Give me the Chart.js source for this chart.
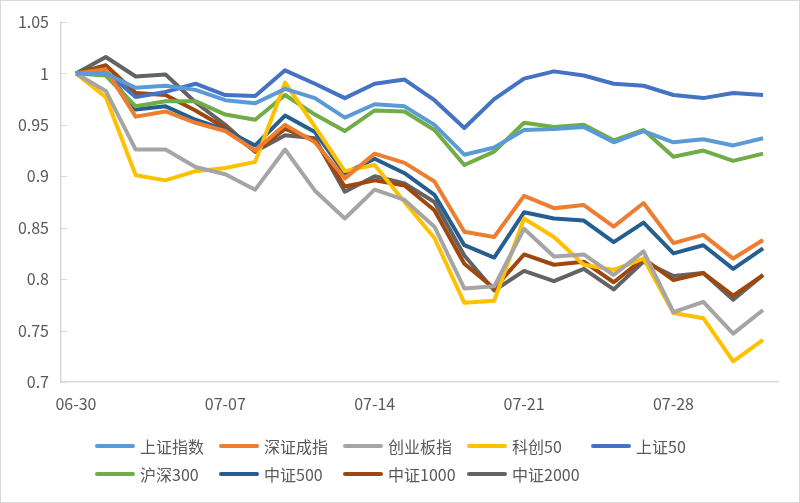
<!DOCTYPE html>
<html>
<head>
<meta charset="utf-8">
<script src="https://cdn.jsdelivr.net/npm/chart.js@4"></script>
<style>
  html, body { margin: 0; padding: 0; background: #fff; }
  #frame {
    position: relative; width: 800px; height: 503px;
    box-sizing: border-box; border: 1px solid #d9d9d9; background: #fff;
    font-family: "Noto Sans CJK SC", "Noto Sans", sans-serif;
  }
  #wrap { position: absolute; left: -1px; top: -1px; width: 800px; height: 503px; }
  #legend {
    position: absolute; left: 94px; top: 431px;
    display: grid; grid-template-columns: repeat(5, 124px); grid-auto-rows: 28px;
    font-size: 16px; color: #595959;
  }
  #legend .item { display: flex; align-items: center; white-space: nowrap; }
  #legend .swatch { width: 40px; height: 4px; border-radius: 2px; margin-right: 5px; }
</style>
</head>
<body>
<div id="frame">
  <div id="wrap"><canvas id="chart"></canvas></div>
  <div id="legend"></div>
</div>
<script>
// trading days, 2025-06-30 .. 2025-07-31
const dates = ['06-30', '07-01', '07-02', '07-03', '07-04',
    '07-07', '07-08', '07-09', '07-10', '07-11',
    '07-14', '07-15', '07-16', '07-17', '07-18',
    '07-21', '07-22', '07-23', '07-24', '07-25',
    '07-28', '07-29', '07-30', '07-31'];

// index values, normalised to 06-30 = 1
const szzs = [1.000, 1.000, 0.986, 0.988, 0.984, 0.974, 0.971, 0.985, 0.976, 0.957, 0.970, 0.968,
    0.950, 0.921, 0.928, 0.945, 0.946, 0.948, 0.933, 0.944, 0.933, 0.936, 0.930, 0.937];
const szcz = [1.000, 1.004, 0.958, 0.963, 0.952, 0.944, 0.925, 0.950, 0.933, 0.898, 0.922, 0.913,
    0.895, 0.846, 0.841, 0.881, 0.869, 0.872, 0.851, 0.874, 0.835, 0.843, 0.820, 0.838];
const cybz = [1.000, 0.983, 0.926, 0.926, 0.909, 0.902, 0.887, 0.926, 0.886, 0.859, 0.887, 0.877,
    0.851, 0.791, 0.793, 0.849, 0.822, 0.824, 0.804, 0.827, 0.768, 0.778, 0.747, 0.770];
const kc50 = [1.000, 0.977, 0.901, 0.896, 0.905, 0.908, 0.914, 0.991, 0.948, 0.905, 0.911, 0.875,
    0.840, 0.777, 0.779, 0.859, 0.841, 0.814, 0.809, 0.820, 0.767, 0.762, 0.720, 0.741];
const sz50 = [1.000, 1.002, 0.977, 0.982, 0.990, 0.979, 0.978, 1.003, 0.990, 0.976, 0.990, 0.994,
    0.974, 0.947, 0.975, 0.995, 1.002, 0.998, 0.990, 0.988, 0.979, 0.976, 0.981, 0.979];
const hs300 = [1.000, 0.998, 0.968, 0.973, 0.973, 0.960, 0.955, 0.979, 0.960, 0.944, 0.964, 0.963,
    0.945, 0.911, 0.924, 0.952, 0.948, 0.950, 0.935, 0.945, 0.919, 0.925, 0.915, 0.922];
const zz500 = [1.000, 1.002, 0.965, 0.968, 0.955, 0.945, 0.930, 0.959, 0.943, 0.903, 0.917, 0.903,
    0.882, 0.833, 0.821, 0.865, 0.859, 0.857, 0.836, 0.855, 0.825, 0.833, 0.810, 0.830];
const zz1000 = [1.000, 1.008, 0.981, 0.979, 0.964, 0.947, 0.924, 0.946, 0.935, 0.890, 0.896, 0.891,
    0.867, 0.815, 0.791, 0.824, 0.814, 0.817, 0.797, 0.820, 0.799, 0.806, 0.784, 0.804];
const zz2000 = [1.000, 1.016, 0.997, 0.999, 0.972, 0.950, 0.924, 0.940, 0.937, 0.885, 0.900, 0.893,
    0.875, 0.823, 0.789, 0.808, 0.798, 0.810, 0.790, 0.817, 0.803, 0.806, 0.780, 0.804];

const seriesNames = ['上证指数', '深证成指', '创业板指', '科创50', '上证50',
    '沪深300', '中证500', '中证1000', '中证2000'];
const seriesData = [szzs, szcz, cybz, kc50, sz50, hs300, zz500, zz1000, zz2000];
const seriesColors = ['#5B9BD5', '#ED7D31', '#A5A5A5', '#FFC000', '#4472C4',
    '#70AD47', '#255E91', '#9E480E', '#636363'];

const yTicks = [0.7, 0.75, 0.8, 0.85, 0.9, 0.95, 1, 1.05];

const FONT = '"Noto Sans CJK SC", "Noto Sans", sans-serif';
const AXIS = '#d9d9d9';

// small inward tick marks on the value axis, like the original
const innerTicks = {
    id: 'innerTicks',
    afterDraw(chart) {
        const y = chart.scales.y;
        const ctx = chart.ctx;
        ctx.save();
        ctx.strokeStyle = AXIS;
        ctx.lineWidth = 1;
        ctx.beginPath();
        y.ticks.forEach(t => {
            const py = Math.round(y.getPixelForValue(t.value)) + 0.5;
            ctx.moveTo(y.right, py);
            ctx.lineTo(y.right + 6, py);
        });
        ctx.stroke();
        ctx.restore();
    }
};

const datasets = seriesNames.map((name, i) => ({
    label: name,
    data: seriesData[i],
    borderColor: seriesColors[i],
    backgroundColor: seriesColors[i],
    borderWidth: 4,
    borderJoinStyle: 'round',
    pointRadius: 0,
    tension: 0,
    fill: false
}));

const chart = new Chart(document.getElementById('chart'), {
    type: 'line',
    data: { labels: dates, datasets: datasets },
    options: {
        responsive: true,
        maintainAspectRatio: false,
        animation: false,
        layout: { padding: { left: 0, right: 22, top: 22, bottom: 81 } },
        plugins: {
            legend: { display: false },
            tooltip: { enabled: false }
        },
        scales: {
            x: {
                offset: true,
                grid: { display: false, drawTicks: false },
                border: { display: true, color: AXIS, width: 1.5 },
                ticks: {
                    autoSkip: false,
                    maxRotation: 0,
                    padding: 12,
                    color: '#595959',
                    font: { family: FONT, size: 16 },
                    callback: function (value, index) {
                        return index % 5 === 0 ? dates[index] : '';
                    }
                },
                afterFit: s => { s.height = 40; }
            },
            y: {
                min: yTicks[0],
                max: yTicks[yTicks.length - 1],
                grid: { display: false, drawTicks: false },
                border: { display: true, color: AXIS, width: 1.5 },
                afterBuildTicks: s => { s.ticks = yTicks.map(v => ({ value: v })); },
                ticks: {
                    padding: 12,
                    color: '#595959',
                    font: { family: FONT, size: 16 },
                    callback: v => String(Number(v.toFixed(2)))
                },
                afterFit: s => { s.width = 61; }
            }
        }
    },
    plugins: [innerTicks]
});

// legend as html, built from the chart's datasets
const legend = document.getElementById('legend');
chart.data.datasets.forEach(ds => {
    const item = document.createElement('div');
    item.className = 'item';
    const sw = document.createElement('span');
    sw.className = 'swatch';
    sw.style.background = ds.borderColor;
    const txt = document.createElement('span');
    txt.textContent = ds.label;
    item.appendChild(sw);
    item.appendChild(txt);
    legend.appendChild(item);
});
</script>
</body>
</html>
